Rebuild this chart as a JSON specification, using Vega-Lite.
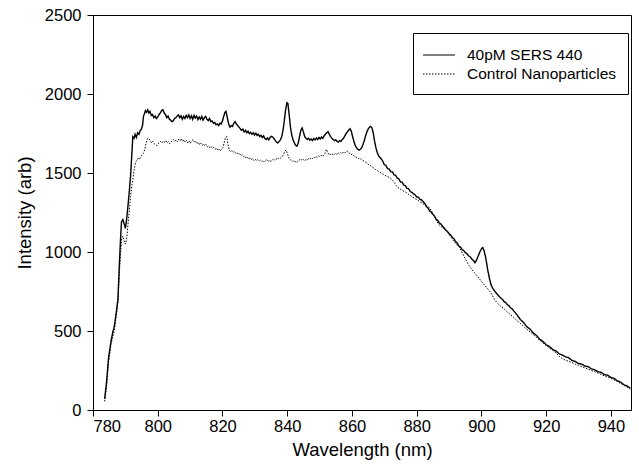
{
  "$schema": "https://vega.github.io/schema/vega-lite/v6.json",
  "width": 538,
  "height": 395,
  "autosize": {"type": "none"},
  "padding": {"left": 93, "top": 15, "right": 8, "bottom": 59},
  "background": "white",
  "config": {
    "view": {"stroke": "black", "strokeWidth": 1},
    "font": "Liberation Sans",
    "axis": {
      "grid": false,
      "domainColor": "black",
      "tickColor": "black",
      "labelColor": "black",
      "titleColor": "black",
      "labelFont": "Liberation Sans",
      "titleFont": "Liberation Sans",
      "labelFontSize": 16.5,
      "titleFontSize": 18.5,
      "titleFontWeight": "normal",
      "tickSize": 6,
      "domainWidth": 1,
      "tickWidth": 1
    },
    "legend": {
      "orient": "none",
      "legendX": 320,
      "legendY": 18,
      "padding": 11.5,
      "strokeColor": "black",
      "fillColor": "white",
      "labelFont": "Liberation Sans",
      "labelFontSize": 15.5,
      "labelColor": "black",
      "symbolType": "M-1.6,0H1.6",
      "symbolSize": 400,
      "symbolOffset": 4,
      "symbolStrokeColor": "black",
      "symbolStrokeWidth": 1,
      "labelOffset": 17.5,
      "rowPadding": -2
    }
  },
  "datasets": {
    "sers": [
      {"w":783.6,"i":70},{"w":784.2,"i":180},{"w":784.8,"i":330},{"w":785.6,"i":440},{"w":786.2,"i":500},{"w":786.6,"i":530},{"w":787.2,"i":620},{"w":787.7,"i":700},{"w":788.1,"i":900},{"w":788.5,"i":1080},{"w":788.8,"i":1190},{"w":789.2,"i":1205},{"w":789.6,"i":1180},{"w":790.0,"i":1150},{"w":790.3,"i":1190},{"w":790.7,"i":1270},{"w":791.2,"i":1380},{"w":791.6,"i":1480},{"w":792.0,"i":1620},{"w":792.3,"i":1730},{"w":792.7,"i":1720},{"w":793.0,"i":1745},{"w":793.4,"i":1725},{"w":793.8,"i":1755},{"w":794.2,"i":1745},{"w":794.6,"i":1770},{"w":794.9,"i":1775},{"w":795.3,"i":1800},{"w":795.6,"i":1860},{"w":795.9,"i":1875},{"w":796.2,"i":1895},{"w":796.5,"i":1885},{"w":796.9,"i":1900},{"w":797.2,"i":1880},{"w":797.6,"i":1890},{"w":798.0,"i":1865},{"w":798.4,"i":1870},{"w":798.8,"i":1850},{"w":799.2,"i":1860},{"w":799.6,"i":1845},{"w":800.0,"i":1855},{"w":800.4,"i":1870},{"w":800.8,"i":1880},{"w":801.2,"i":1895},{"w":801.6,"i":1900},{"w":802.0,"i":1880},{"w":802.4,"i":1870},{"w":802.8,"i":1850},{"w":803.2,"i":1860},{"w":803.6,"i":1840},{"w":804.0,"i":1835},{"w":804.4,"i":1825},{"w":804.8,"i":1830},{"w":805.2,"i":1845},{"w":805.6,"i":1850},{"w":806.0,"i":1860},{"w":806.4,"i":1868},{"w":806.8,"i":1850},{"w":807.2,"i":1862},{"w":807.6,"i":1840},{"w":808.0,"i":1858},{"w":808.4,"i":1845},{"w":808.8,"i":1865},{"w":809.2,"i":1850},{"w":809.6,"i":1868},{"w":810.0,"i":1845},{"w":810.4,"i":1862},{"w":810.8,"i":1840},{"w":811.2,"i":1865},{"w":811.6,"i":1848},{"w":812.0,"i":1860},{"w":812.4,"i":1838},{"w":812.8,"i":1855},{"w":813.2,"i":1840},{"w":813.6,"i":1858},{"w":814.0,"i":1835},{"w":814.4,"i":1850},{"w":814.8,"i":1858},{"w":815.2,"i":1840},{"w":815.6,"i":1832},{"w":816.0,"i":1845},{"w":816.4,"i":1825},{"w":816.8,"i":1830},{"w":817.2,"i":1815},{"w":817.6,"i":1820},{"w":818.0,"i":1805},{"w":818.4,"i":1810},{"w":818.8,"i":1800},{"w":819.2,"i":1815},{"w":819.6,"i":1810},{"w":820.0,"i":1830},{"w":820.4,"i":1860},{"w":820.8,"i":1885},{"w":821.1,"i":1890},{"w":821.5,"i":1850},{"w":821.9,"i":1810},{"w":822.3,"i":1790},{"w":822.7,"i":1800},{"w":823.1,"i":1795},{"w":823.5,"i":1815},{"w":823.9,"i":1825},{"w":824.3,"i":1810},{"w":824.7,"i":1800},{"w":825.1,"i":1790},{"w":825.5,"i":1780},{"w":825.9,"i":1770},{"w":826.3,"i":1778},{"w":826.7,"i":1760},{"w":827.1,"i":1770},{"w":827.5,"i":1755},{"w":827.9,"i":1765},{"w":828.3,"i":1750},{"w":828.7,"i":1758},{"w":829.1,"i":1745},{"w":829.5,"i":1755},{"w":829.9,"i":1740},{"w":830.3,"i":1752},{"w":830.7,"i":1738},{"w":831.1,"i":1745},{"w":831.5,"i":1730},{"w":831.9,"i":1738},{"w":832.3,"i":1725},{"w":832.7,"i":1735},{"w":833.1,"i":1718},{"w":833.5,"i":1712},{"w":833.9,"i":1722},{"w":834.3,"i":1710},{"w":834.7,"i":1725},{"w":835.1,"i":1732},{"w":835.5,"i":1728},{"w":835.9,"i":1718},{"w":836.3,"i":1705},{"w":836.7,"i":1695},{"w":837.1,"i":1690},{"w":837.5,"i":1700},{"w":837.9,"i":1710},{"w":838.3,"i":1730},{"w":838.7,"i":1770},{"w":839.1,"i":1830},{"w":839.5,"i":1900},{"w":839.9,"i":1945},{"w":840.2,"i":1940},{"w":840.6,"i":1870},{"w":841.0,"i":1790},{"w":841.4,"i":1740},{"w":841.8,"i":1710},{"w":842.2,"i":1690},{"w":842.6,"i":1675},{"w":843.0,"i":1670},{"w":843.4,"i":1690},{"w":843.8,"i":1730},{"w":844.2,"i":1770},{"w":844.6,"i":1785},{"w":845.0,"i":1760},{"w":845.4,"i":1730},{"w":845.8,"i":1720},{"w":846.2,"i":1712},{"w":846.6,"i":1720},{"w":847.0,"i":1708},{"w":847.4,"i":1715},{"w":847.8,"i":1705},{"w":848.2,"i":1718},{"w":848.6,"i":1710},{"w":849.0,"i":1722},{"w":849.4,"i":1712},{"w":849.8,"i":1725},{"w":850.2,"i":1715},{"w":850.6,"i":1728},{"w":851.0,"i":1720},{"w":851.4,"i":1735},{"w":851.8,"i":1745},{"w":852.2,"i":1755},{"w":852.6,"i":1762},{"w":853.0,"i":1745},{"w":853.4,"i":1730},{"w":853.8,"i":1720},{"w":854.2,"i":1712},{"w":854.6,"i":1705},{"w":855.0,"i":1710},{"w":855.4,"i":1700},{"w":855.8,"i":1695},{"w":856.2,"i":1705},{"w":856.6,"i":1700},{"w":857.0,"i":1712},{"w":857.4,"i":1720},{"w":857.8,"i":1735},{"w":858.2,"i":1750},{"w":858.6,"i":1760},{"w":859.0,"i":1772},{"w":859.4,"i":1780},{"w":859.8,"i":1765},{"w":860.2,"i":1730},{"w":860.6,"i":1700},{"w":861.0,"i":1675},{"w":861.4,"i":1660},{"w":861.8,"i":1650},{"w":862.2,"i":1645},{"w":862.6,"i":1650},{"w":863.0,"i":1660},{"w":863.4,"i":1680},{"w":863.8,"i":1705},{"w":864.2,"i":1735},{"w":864.6,"i":1760},{"w":865.0,"i":1778},{"w":865.4,"i":1790},{"w":865.8,"i":1795},{"w":866.2,"i":1785},{"w":866.6,"i":1750},{"w":867.0,"i":1700},{"w":867.4,"i":1660},{"w":867.8,"i":1630},{"w":868.2,"i":1610},{"w":868.6,"i":1600},{"w":869.0,"i":1590},{"w":869.5,"i":1575},{"w":870.0,"i":1552},{"w":870.5,"i":1548},{"w":871.0,"i":1528},{"w":871.5,"i":1525},{"w":872.0,"i":1508},{"w":872.5,"i":1507},{"w":873.0,"i":1488},{"w":873.5,"i":1485},{"w":874.0,"i":1468},{"w":874.5,"i":1462},{"w":875.0,"i":1443},{"w":875.5,"i":1442},{"w":876.0,"i":1423},{"w":876.5,"i":1420},{"w":877.0,"i":1403},{"w":877.5,"i":1400},{"w":878.0,"i":1383},{"w":878.5,"i":1378},{"w":879.0,"i":1368},{"w":879.5,"i":1362},{"w":880.0,"i":1348},{"w":880.5,"i":1347},{"w":881.0,"i":1333},{"w":881.5,"i":1330},{"w":882.0,"i":1318},{"w":882.5,"i":1307},{"w":883.0,"i":1288},{"w":883.5,"i":1277},{"w":884.0,"i":1260},{"w":884.5,"i":1252},{"w":885.0,"i":1238},{"w":885.5,"i":1227},{"w":886.0,"i":1208},{"w":886.5,"i":1200},{"w":887.0,"i":1183},{"w":887.5,"i":1177},{"w":888.0,"i":1163},{"w":888.5,"i":1152},{"w":889.0,"i":1138},{"w":889.5,"i":1130},{"w":890.0,"i":1116},{"w":890.5,"i":1107},{"w":891.0,"i":1093},{"w":891.5,"i":1084},{"w":892.0,"i":1066},{"w":892.5,"i":1057},{"w":893.0,"i":1038},{"w":893.5,"i":1032},{"w":894.0,"i":1016},{"w":894.5,"i":1010},{"w":895.0,"i":996},{"w":895.5,"i":990},{"w":896.0,"i":976},{"w":896.5,"i":970},{"w":897.0,"i":956},{"w":897.5,"i":947},{"w":898.0,"i":932},{"w":898.4,"i":945},{"w":898.8,"i":965},{"w":899.2,"i":985},{"w":899.6,"i":1005},{"w":900.0,"i":1020},{"w":900.4,"i":1028},{"w":900.8,"i":1010},{"w":901.2,"i":975},{"w":901.6,"i":930},{"w":902.0,"i":880},{"w":902.5,"i":830},{"w":903.0,"i":790},{"w":903.5,"i":770},{"w":904.0,"i":755},{"w":904.5,"i":742},{"w":905.0,"i":730},{"w":905.5,"i":718},{"w":906.0,"i":708},{"w":906.5,"i":700},{"w":907.0,"i":686},{"w":907.5,"i":680},{"w":908.0,"i":666},{"w":908.5,"i":660},{"w":909.0,"i":646},{"w":909.5,"i":640},{"w":910.0,"i":626},{"w":911.0,"i":602},{"w":912.0,"i":573},{"w":913.0,"i":554},{"w":914.0,"i":528},{"w":915.0,"i":512},{"w":916.0,"i":488},{"w":917.0,"i":472},{"w":918.0,"i":448},{"w":919.0,"i":434},{"w":920.0,"i":413},{"w":921.0,"i":402},{"w":922.0,"i":383},{"w":923.0,"i":374},{"w":924.0,"i":356},{"w":925.0,"i":347},{"w":926.0,"i":336},{"w":927.0,"i":330},{"w":928.0,"i":313},{"w":929.0,"i":307},{"w":930.0,"i":294},{"w":931.0,"i":290},{"w":932.0,"i":278},{"w":933.0,"i":274},{"w":934.0,"i":260},{"w":935.0,"i":254},{"w":936.0,"i":242},{"w":937.0,"i":238},{"w":938.0,"i":224},{"w":939.0,"i":220},{"w":940.0,"i":206},{"w":941.0,"i":200},{"w":942.0,"i":184},{"w":943.0,"i":177},{"w":944.0,"i":160},{"w":945.0,"i":152},{"w":946.0,"i":138}
    ],
    "control": [
      {"w":783.6,"i":55},{"w":784.2,"i":150},{"w":784.8,"i":300},{"w":785.6,"i":420},{"w":786.6,"i":505},{"w":787.2,"i":600},{"w":787.7,"i":680},{"w":788.1,"i":850},{"w":788.5,"i":990},{"w":788.9,"i":1090},{"w":789.2,"i":1100},{"w":789.6,"i":1070},{"w":790.0,"i":1050},{"w":790.4,"i":1080},{"w":790.7,"i":1150},{"w":791.2,"i":1260},{"w":791.6,"i":1350},{"w":792.0,"i":1420},{"w":792.3,"i":1460},{"w":792.7,"i":1520},{"w":793.2,"i":1572},{"w":793.6,"i":1580},{"w":794.0,"i":1595},{"w":794.4,"i":1590},{"w":794.8,"i":1605},{"w":795.2,"i":1615},{"w":795.6,"i":1625},{"w":796.0,"i":1650},{"w":796.4,"i":1690},{"w":796.9,"i":1720},{"w":797.3,"i":1715},{"w":797.7,"i":1705},{"w":798.1,"i":1690},{"w":798.5,"i":1700},{"w":798.9,"i":1685},{"w":799.3,"i":1678},{"w":799.7,"i":1672},{"w":800.1,"i":1685},{"w":800.5,"i":1692},{"w":800.9,"i":1700},{"w":801.3,"i":1690},{"w":801.7,"i":1702},{"w":802.1,"i":1695},{"w":802.5,"i":1705},{"w":802.9,"i":1690},{"w":803.3,"i":1698},{"w":803.7,"i":1685},{"w":804.1,"i":1695},{"w":804.5,"i":1705},{"w":804.9,"i":1712},{"w":805.3,"i":1700},{"w":805.7,"i":1710},{"w":806.1,"i":1698},{"w":806.5,"i":1715},{"w":806.9,"i":1705},{"w":807.3,"i":1718},{"w":807.7,"i":1700},{"w":808.1,"i":1710},{"w":808.5,"i":1695},{"w":808.9,"i":1708},{"w":809.3,"i":1690},{"w":809.7,"i":1702},{"w":810.1,"i":1688},{"w":810.5,"i":1705},{"w":810.9,"i":1712},{"w":811.3,"i":1695},{"w":811.7,"i":1700},{"w":812.1,"i":1685},{"w":812.5,"i":1695},{"w":812.9,"i":1680},{"w":813.3,"i":1690},{"w":813.7,"i":1675},{"w":814.1,"i":1685},{"w":814.5,"i":1672},{"w":814.9,"i":1680},{"w":815.3,"i":1665},{"w":815.7,"i":1672},{"w":816.1,"i":1660},{"w":816.5,"i":1668},{"w":816.9,"i":1655},{"w":817.3,"i":1662},{"w":817.7,"i":1650},{"w":818.1,"i":1658},{"w":818.5,"i":1645},{"w":818.9,"i":1652},{"w":819.3,"i":1640},{"w":819.7,"i":1650},{"w":820.1,"i":1660},{"w":820.5,"i":1690},{"w":820.9,"i":1725},{"w":821.3,"i":1730},{"w":821.7,"i":1680},{"w":822.1,"i":1645},{"w":822.5,"i":1635},{"w":822.9,"i":1642},{"w":823.3,"i":1630},{"w":823.7,"i":1638},{"w":824.1,"i":1625},{"w":824.5,"i":1630},{"w":824.9,"i":1618},{"w":825.3,"i":1622},{"w":825.7,"i":1610},{"w":826.1,"i":1615},{"w":826.5,"i":1602},{"w":826.9,"i":1608},{"w":827.3,"i":1595},{"w":827.7,"i":1600},{"w":828.1,"i":1588},{"w":828.5,"i":1595},{"w":828.9,"i":1585},{"w":829.3,"i":1592},{"w":829.7,"i":1580},{"w":830.1,"i":1588},{"w":830.5,"i":1578},{"w":830.9,"i":1585},{"w":831.3,"i":1575},{"w":831.7,"i":1582},{"w":832.1,"i":1572},{"w":832.5,"i":1580},{"w":832.9,"i":1570},{"w":833.3,"i":1578},{"w":833.7,"i":1585},{"w":834.1,"i":1575},{"w":834.5,"i":1582},{"w":834.9,"i":1572},{"w":835.3,"i":1580},{"w":835.7,"i":1590},{"w":836.1,"i":1582},{"w":836.5,"i":1592},{"w":836.9,"i":1585},{"w":837.3,"i":1595},{"w":837.7,"i":1590},{"w":838.1,"i":1598},{"w":838.5,"i":1605},{"w":838.9,"i":1620},{"w":839.3,"i":1640},{"w":839.7,"i":1645},{"w":840.1,"i":1620},{"w":840.5,"i":1595},{"w":840.9,"i":1585},{"w":841.3,"i":1578},{"w":841.7,"i":1572},{"w":842.1,"i":1580},{"w":842.5,"i":1570},{"w":842.9,"i":1565},{"w":843.3,"i":1575},{"w":843.7,"i":1580},{"w":844.1,"i":1590},{"w":844.5,"i":1582},{"w":844.9,"i":1588},{"w":845.3,"i":1578},{"w":845.7,"i":1585},{"w":846.1,"i":1580},{"w":846.5,"i":1590},{"w":846.9,"i":1585},{"w":847.3,"i":1595},{"w":847.7,"i":1590},{"w":848.1,"i":1600},{"w":848.5,"i":1595},{"w":848.9,"i":1605},{"w":849.3,"i":1598},{"w":849.7,"i":1608},{"w":850.1,"i":1602},{"w":850.5,"i":1612},{"w":850.9,"i":1605},{"w":851.3,"i":1615},{"w":851.7,"i":1625},{"w":852.1,"i":1650},{"w":852.5,"i":1630},{"w":852.9,"i":1615},{"w":853.3,"i":1620},{"w":853.7,"i":1612},{"w":854.1,"i":1620},{"w":854.5,"i":1615},{"w":854.9,"i":1625},{"w":855.3,"i":1618},{"w":855.7,"i":1628},{"w":856.1,"i":1620},{"w":856.5,"i":1630},{"w":856.9,"i":1622},{"w":857.3,"i":1632},{"w":857.7,"i":1625},{"w":858.1,"i":1635},{"w":858.5,"i":1640},{"w":858.9,"i":1630},{"w":859.3,"i":1625},{"w":859.7,"i":1615},{"w":860.1,"i":1620},{"w":860.5,"i":1610},{"w":860.9,"i":1605},{"w":861.3,"i":1600},{"w":861.7,"i":1598},{"w":862.1,"i":1590},{"w":862.5,"i":1595},{"w":862.9,"i":1585},{"w":863.3,"i":1580},{"w":863.7,"i":1575},{"w":864.1,"i":1570},{"w":864.5,"i":1565},{"w":864.9,"i":1558},{"w":865.3,"i":1550},{"w":865.7,"i":1548},{"w":866.1,"i":1540},{"w":866.5,"i":1535},{"w":866.9,"i":1528},{"w":867.3,"i":1522},{"w":867.7,"i":1518},{"w":868.2,"i":1510},{"w":868.7,"i":1505},{"w":869.2,"i":1498},{"w":869.7,"i":1492},{"w":870.2,"i":1485},{"w":870.7,"i":1480},{"w":871.2,"i":1475},{"w":871.7,"i":1470},{"w":872.2,"i":1462},{"w":872.7,"i":1450},{"w":873.2,"i":1435},{"w":873.7,"i":1420},{"w":874.2,"i":1408},{"w":874.7,"i":1400},{"w":875.2,"i":1395},{"w":875.7,"i":1388},{"w":876.2,"i":1382},{"w":876.7,"i":1378},{"w":877.2,"i":1370},{"w":877.7,"i":1362},{"w":878.2,"i":1355},{"w":878.7,"i":1348},{"w":879.2,"i":1342},{"w":879.7,"i":1335},{"w":880.2,"i":1330},{"w":880.7,"i":1322},{"w":881.2,"i":1315},{"w":881.7,"i":1310},{"w":882.2,"i":1302},{"w":882.7,"i":1298},{"w":883.2,"i":1292},{"w":883.7,"i":1285},{"w":884.2,"i":1272},{"w":884.7,"i":1255},{"w":885.2,"i":1235},{"w":885.7,"i":1215},{"w":886.2,"i":1195},{"w":886.7,"i":1178},{"w":887.2,"i":1165},{"w":887.7,"i":1158},{"w":888.2,"i":1150},{"w":888.7,"i":1142},{"w":889.2,"i":1135},{"w":889.7,"i":1120},{"w":890.2,"i":1105},{"w":890.7,"i":1090},{"w":891.2,"i":1075},{"w":891.7,"i":1062},{"w":892.2,"i":1050},{"w":892.7,"i":1040},{"w":893.2,"i":1030},{"w":893.7,"i":1010},{"w":894.2,"i":990},{"w":894.7,"i":970},{"w":895.2,"i":950},{"w":895.7,"i":930},{"w":896.2,"i":912},{"w":896.7,"i":898},{"w":897.2,"i":886},{"w":897.7,"i":872},{"w":898.2,"i":860},{"w":898.7,"i":848},{"w":899.2,"i":835},{"w":899.7,"i":822},{"w":900.2,"i":810},{"w":901.0,"i":790},{"w":902.0,"i":765},{"w":903.0,"i":740},{"w":904.0,"i":700},{"w":905.0,"i":675},{"w":906.0,"i":655},{"w":907.0,"i":640},{"w":908.0,"i":620},{"w":909.0,"i":602},{"w":910.0,"i":585},{"w":911.0,"i":565},{"w":912.0,"i":548},{"w":913.0,"i":530},{"w":914.0,"i":512},{"w":915.0,"i":495},{"w":916.0,"i":478},{"w":917.0,"i":460},{"w":918.0,"i":442},{"w":919.0,"i":425},{"w":920.0,"i":408},{"w":921.0,"i":392},{"w":922.0,"i":378},{"w":923.0,"i":362},{"w":924.0,"i":340},{"w":925.0,"i":325},{"w":926.0,"i":315},{"w":927.0,"i":308},{"w":928.0,"i":300},{"w":929.0,"i":290},{"w":930.0,"i":282},{"w":931.0,"i":274},{"w":932.0,"i":266},{"w":933.0,"i":258},{"w":934.0,"i":250},{"w":935.0,"i":242},{"w":936.0,"i":234},{"w":937.0,"i":225},{"w":938.0,"i":216},{"w":939.0,"i":208},{"w":940.0,"i":200},{"w":941.0,"i":190},{"w":942.0,"i":180},{"w":943.0,"i":168},{"w":944.0,"i":156},{"w":945.0,"i":145},{"w":946.0,"i":132}
    ]
  },
  "encoding": {
    "x": {
      "field": "w",
      "type": "quantitative",
      "title": "Wavelength (nm)",
      "scale": {"domain": [780, 946.2], "nice": false, "zero": false},
      "axis": {"values": [780, 800, 820, 840, 860, 880, 900, 920, 940], "format": "d", "labelPadding": 2, "titlePadding": 6}
    },
    "y": {
      "field": "i",
      "type": "quantitative",
      "title": "Intensity (arb)",
      "scale": {"domain": [0, 2500], "nice": false},
      "axis": {"values": [0, 500, 1000, 1500, 2000, 2500], "format": "d", "labelPadding": 6, "titlePadding": 10}
    }
  },
  "layer": [
    {
      "data": {"name": "sers"},
      "mark": {"type": "line", "color": "black", "strokeWidth": 1.4, "clip": true},
      "encoding": {
        "strokeDash": {
          "datum": "40pM SERS 440",
          "type": "nominal",
          "scale": {"domain": ["40pM SERS 440", "Control Nanoparticles"], "range": [[1, 0], [1.5, 1.5]]},
          "legend": {"title": null}
        }
      }
    },
    {
      "data": {"name": "control"},
      "mark": {"type": "line", "color": "black", "strokeWidth": 1, "clip": true},
      "encoding": {
        "strokeDash": {
          "datum": "Control Nanoparticles",
          "type": "nominal"
        }
      }
    }
  ]
}
